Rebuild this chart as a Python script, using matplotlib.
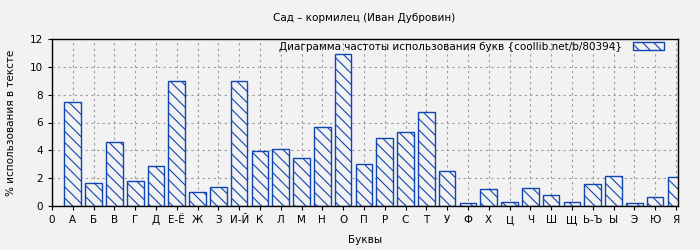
import matplotlib
matplotlib.use('Agg')
import matplotlib.pyplot as plt

#--------------------#
# DATA
letters = ['А', 'Б', 'В', 'Г', 'Д', 'Е-Ё', 'Ж', 'З', 'И-Й', 'К', 'Л', 'М', 'Н', 'О', 'П',
           'Р', 'С', 'Т', 'У', 'Ф', 'Х', 'Ц', 'Ч', 'Ш', 'Щ', 'Ь-Ъ', 'Ы', 'Э', 'Ю', 'Я']
percent = [7.5, 1.63, 4.58, 1.78, 2.86, 8.98, 0.98, 1.34, 8.98, 3.94, 4.08, 3.43, 5.66, 10.92, 3.0,
           4.87, 5.30, 6.74, 2.50, 0.19, 1.2, 0.26, 1.27, 0.77, 0.26, 1.56, 2.16, 0.19, 0.62, 2.09]
tick_labels = ['0'] + letters

#--------------------#
# STYLE
bg = '#f2f2f2'
blue = '#1046b4'
fs = 7.5
plt.rcParams['font.family'] = ['DejaVu Sans']
plt.rcParams['hatch.linewidth'] = 0.8
plt.rcParams['hatch.color'] = blue

fig = plt.figure(figsize=(7, 2.5), dpi=100, facecolor=bg)
ax = fig.add_axes([52/700, 44/250, 626/700, 167/250], facecolor=bg)

x = list(range(1, len(letters) + 1))
ax.bar(x, percent, width=0.8, facecolor=bg, edgecolor=blue, linewidth=1.0,
       hatch='\\\\\\', zorder=2, label='Диаграмма частоты использования букв {coollib.net/b/80394}')

ax.set_xlim(0, 30.1)
ax.set_ylim(0, 12)
ax.set_xticks(range(0, len(letters) + 1))
ax.set_xticklabels(tick_labels, fontsize=fs)
ax.set_yticks(range(0, 13, 2))
ax.tick_params(axis='y', labelsize=fs)
ax.tick_params(direction='out', length=3, width=0.8)
ax.grid(True, color='#999999', linestyle=(0, (2, 3)), linewidth=0.8, zorder=0)
ax.set_axisbelow(True)
for s in ax.spines.values():
    s.set_linewidth(1.0)

ax.set_xlabel('Буквы', fontsize=fs, labelpad=7.5)
ax.set_ylabel('% использования в тексте', fontsize=fs, labelpad=10)
fig.text(0.52, 0.928, 'Сад – кормилец (Иван Дубровин)', ha='center', va='center', fontsize=fs)

ax.legend(loc='upper right', bbox_to_anchor=(612/626, 0.985), frameon=False, markerfirst=False,
          fontsize=fs, handlelength=3.0, handleheight=0.7, borderaxespad=0, borderpad=0,
          handletextpad=1.0)

plt.savefig('out.png', dpi=100, facecolor=bg)
